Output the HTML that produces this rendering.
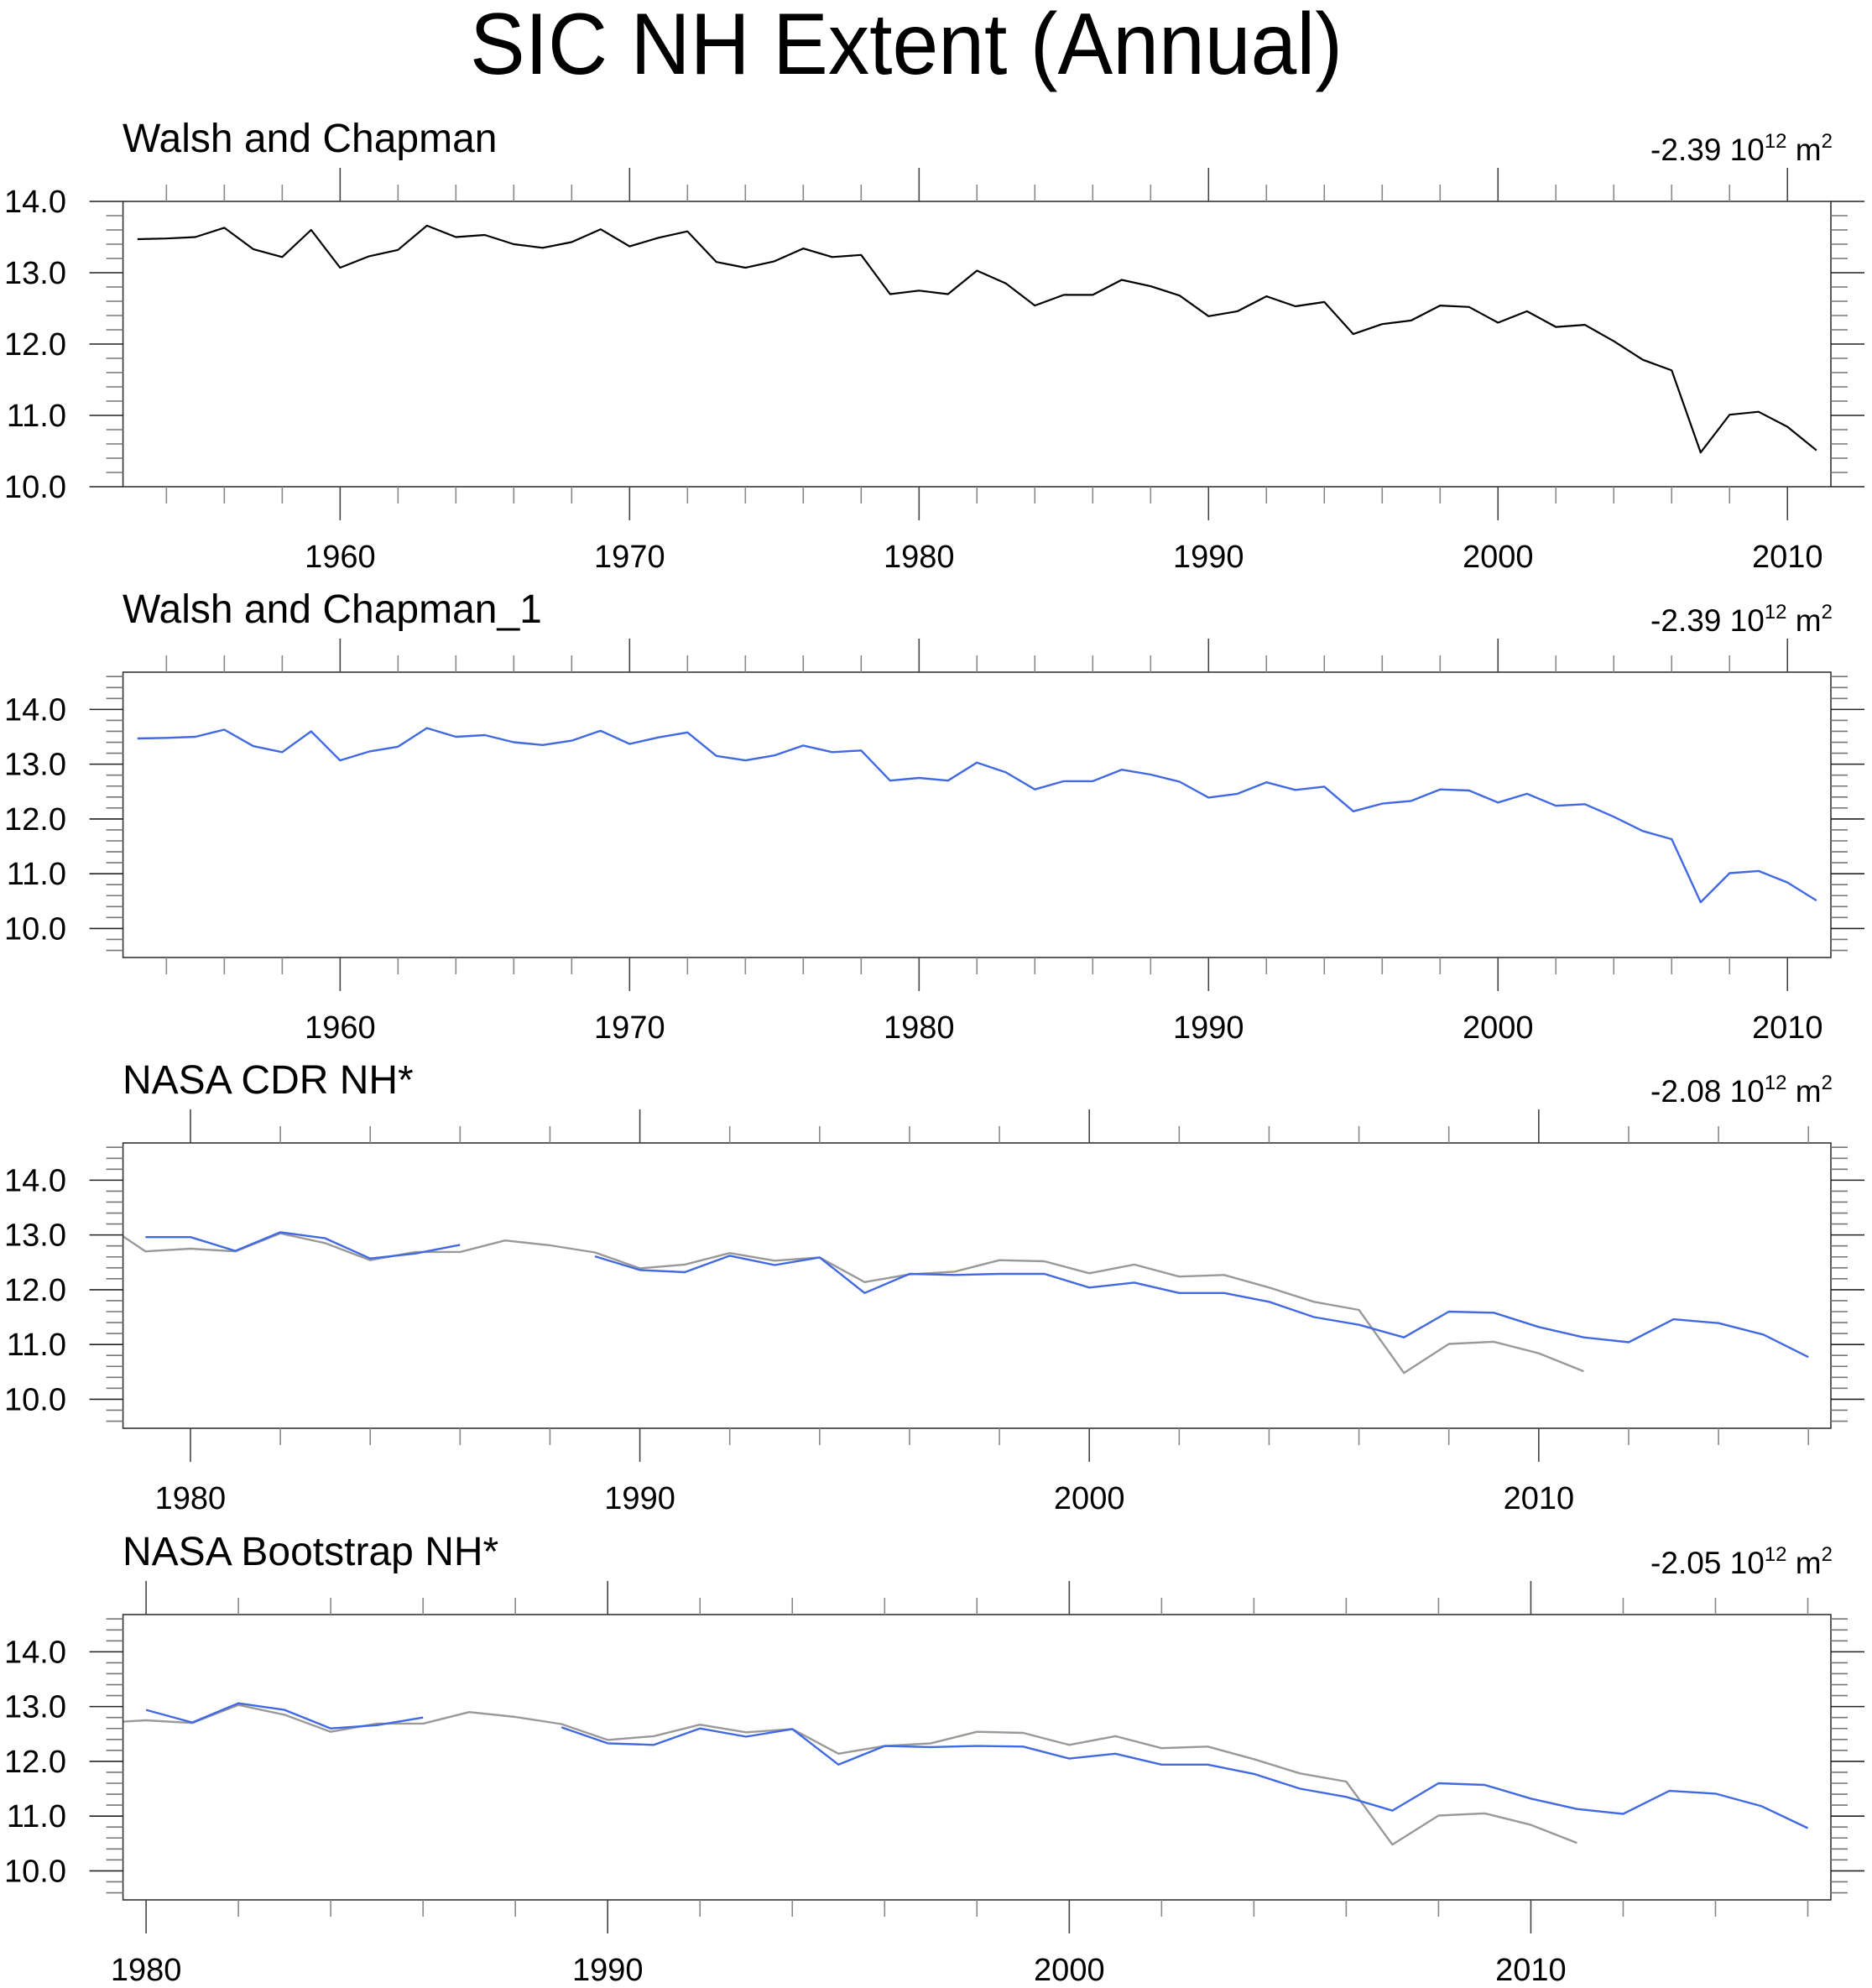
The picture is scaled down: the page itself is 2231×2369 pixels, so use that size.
<!DOCTYPE html>
<html>
<head>
<meta charset="utf-8">
<style>
html,body{margin:0;padding:0;background:#fff;}
svg{display:block;}
text{font-family:"Liberation Sans",Arial,sans-serif;fill:#000;}
</style>
</head>
<body>
<svg id="chart" xmlns="http://www.w3.org/2000/svg" width="2231" height="2369" viewBox="0 0 2231 2369">
<rect x="0" y="0" width="2231" height="2369" fill="#fff"/>
<text x="1080" y="88" font-size="104" text-anchor="middle" textLength="1040" lengthAdjust="spacingAndGlyphs">SIC NH Extent (Annual)</text>
</svg>
<script>
// ---- data ----
const walshYears = [1953,1954,1955,1956,1957,1958,1959,1960,1961,1962,1963,1964,1965,1966,1967,1968,1969,1970,1971,1972,1973,1974,1975,1976,1977,1978,1979,1980,1981,1982,1983,1984,1985,1986,1987,1988,1989,1990,1991,1992,1993,1994,1995,1996,1997,1998,1999,2000,2001,2002,2003,2004,2005,2006,2007,2008,2009,2010,2011];
const walshValues = [13.47,13.48,13.50,13.63,13.33,13.22,13.60,13.07,13.23,13.32,13.66,13.50,13.53,13.40,13.35,13.43,13.61,13.37,13.49,13.58,13.15,13.07,13.16,13.34,13.22,13.25,12.70,12.75,12.70,13.03,12.85,12.54,12.69,12.69,12.90,12.81,12.68,12.39,12.46,12.67,12.53,12.59,12.14,12.28,12.33,12.54,12.52,12.30,12.46,12.24,12.27,12.04,11.78,11.63,10.48,11.01,11.05,10.84,10.51];
const cdrYears = [1979,1980,1981,1982,1983,1984,1985,1986,null,1989,1990,1991,1992,1993,1994,1995,1996,1997,1998,1999,2000,2001,2002,2003,2004,2005,2006,2007,2008,2009,2010,2011,2012,2013,2014,2015,2016];
const cdrValues = [12.96,12.96,12.71,13.05,12.94,12.57,12.66,12.82,null,12.61,12.36,12.32,12.62,12.45,12.59,11.94,12.29,12.27,12.29,12.29,12.04,12.13,11.94,11.94,11.78,11.50,11.36,11.13,11.60,11.58,11.32,11.13,11.04,11.46,11.39,11.18,10.77];
const bootYears = [1980,1981,1982,1983,1984,1985,1986,null,1989,1990,1991,1992,1993,1994,1995,1996,1997,1998,1999,2000,2001,2002,2003,2004,2005,2006,2007,2008,2009,2010,2011,2012,2013,2014,2015,2016];
const bootValues = [12.94,12.71,13.06,12.94,12.60,12.66,12.80,null,12.62,12.33,12.30,12.60,12.45,12.59,11.94,12.28,12.26,12.28,12.27,12.05,12.14,11.94,11.94,11.77,11.50,11.35,11.10,11.60,11.57,11.32,11.13,11.04,11.46,11.41,11.18,10.78];
const panelTitles = ["Walsh and Chapman","Walsh and Chapman_1","NASA CDR NH*","NASA Bootstrap NH*"];
const trendValues = ["-2.39","-2.39","-2.08","-2.05"];
const yTickLabels = ["10.0","11.0","12.0","13.0","14.0"];

// ---- layout ----
const NS = "http://www.w3.org/2000/svg";
const svg = document.getElementById('chart');
const L = 146.6, R = 2182, H = 340;
const panels = [
  {top:240, y0:10, y1:14, x0:1952.5, x1:2011.5, majors:[1960,1970,1980,1990,2000,2010], minStart:1954, minEnd:2010, yMinorLo:10, yMinorHi:14,
   series:[{xs:walshYears, ys:walshValues, color:"#000", w:2.2, name:"walsh-chapman-line"}]},
  {top:801, y0:9.47, y1:14.68, x0:1952.5, x1:2011.5, majors:[1960,1970,1980,1990,2000,2010], minStart:1954, minEnd:2010, yMinorLo:9.6, yMinorHi:14.6,
   series:[{xs:walshYears, ys:walshValues, color:"#4169e1", w:2.4, name:"walsh-chapman-1-line"}]},
  {top:1362, y0:9.47, y1:14.68, x0:1978.5, x1:2016.5, majors:[1980,1990,2000,2010], minStart:1980, minEnd:2016, yMinorLo:9.6, yMinorHi:14.6,
   series:[{xs:walshYears, ys:walshValues, color:"#999", w:2.4, name:"walsh-reference-line"},
           {xs:cdrYears, ys:cdrValues, color:"#4169e1", w:2.4, name:"nasa-cdr-line"}]},
  {top:1924, y0:9.47, y1:14.68, x0:1979.5, x1:2016.5, majors:[1980,1990,2000,2010], minStart:1980, minEnd:2016, yMinorLo:9.6, yMinorHi:14.6,
   series:[{xs:walshYears, ys:walshValues, color:"#999", w:2.4, name:"walsh-reference-line"},
           {xs:bootYears, ys:bootValues, color:"#4169e1", w:2.4, name:"nasa-bootstrap-line"}]}
];

function mk(tag, attrs, parent){
  const e = document.createElementNS(NS, tag);
  for (const k in attrs) e.setAttribute(k, attrs[k]);
  (parent||svg).appendChild(e);
  return e;
}

panels.forEach(function(p, i){
  const g = mk('g', {});
  
  
  const top = p.top, bot = p.top + H;
  const xs = function(v){ return L + (v - p.x0) / (p.x1 - p.x0) * (R - L); };
  const ys = function(v){ return bot - (v - p.y0) / (p.y1 - p.y0) * H; };

  const cp = mk('clipPath', {id:'clip'+i}, g);
  mk('rect', {x:L, y:top, width:R-L, height:H}, cp);

  p.series.forEach(function(s){
    let d = "", pen = false;
    for (let k = 0; k < s.xs.length; k++){
      if (s.xs[k] === null || s.ys[k] === null){ pen = false; continue; }
      d += (pen ? "L" : "M") + xs(s.xs[k]).toFixed(1) + "," + ys(s.ys[k]).toFixed(1);
      pen = true;
    }
    const path = mk('path', {d:d, fill:'none', stroke:s.color, 'stroke-width':s.w, 'stroke-linejoin':'round', 'clip-path':'url(#clip'+i+')'}, g);
    
    
  });

  const fr = mk('rect', {x:L, y:top, width:R-L, height:H, fill:'none', stroke:'#333', 'stroke-width':1.6}, g);
  
  

  for (let v = p.yMinorLo; v <= p.yMinorHi + 1e-6; v += 0.2){
    const y = ys(v);
    const major = Math.abs(v - Math.round(v)) < 1e-6;
    const len = major ? 40 : 20;
    const col = major ? '#222' : '#777';
    mk('line', {x1:L-len, y1:y, x2:L, y2:y, stroke:col, 'stroke-width':1.6}, g);
    mk('line', {x1:R, y1:y, x2:R+len, y2:y, stroke:col, 'stroke-width':1.6}, g);
  }
  yTickLabels.forEach(function(lbl){
    const t = mk('text', {x:79, y:ys(parseFloat(lbl)) + 13, 'font-size':38, 'text-anchor':'end'}, g);
    t.textContent = lbl;
    
    
  });

  for (let yr = p.minStart; yr <= p.minEnd; yr += 2){
    if (p.majors.indexOf(yr) >= 0) continue;
    const x = xs(yr);
    mk('line', {x1:x, y1:top-20, x2:x, y2:top, stroke:'#888', 'stroke-width':1.6}, g);
    mk('line', {x1:x, y1:bot, x2:x, y2:bot+20, stroke:'#888', 'stroke-width':1.6}, g);
  }
  p.majors.forEach(function(yr){
    const x = xs(yr);
    mk('line', {x1:x, y1:top-40, x2:x, y2:top, stroke:'#444', 'stroke-width':1.6}, g);
    mk('line', {x1:x, y1:bot, x2:x, y2:bot+40, stroke:'#444', 'stroke-width':1.6}, g);
    const t = mk('text', {x:x, y:bot+96, 'font-size':38, 'text-anchor':'middle'}, g);
    t.textContent = String(yr);
    
    
  });

  const tt = mk('text', {x:146, y:top-59, 'font-size':48}, g);
  tt.textContent = panelTitles[i];
  
  

  const ut = mk('text', {x:2184, y:top-49, 'font-size':37, 'text-anchor':'end'}, g);
  
  
  const a = mk('tspan', {}, ut); a.textContent = trendValues[i] + " 10";
  const b = mk('tspan', {'font-size':24, dy:-15}, ut); b.textContent = "12";
  const c = mk('tspan', {dy:15}, ut); c.textContent = " m";
  const d2 = mk('tspan', {'font-size':24, dy:-15}, ut); d2.textContent = "2";
});
</script>
</body>
</html>
